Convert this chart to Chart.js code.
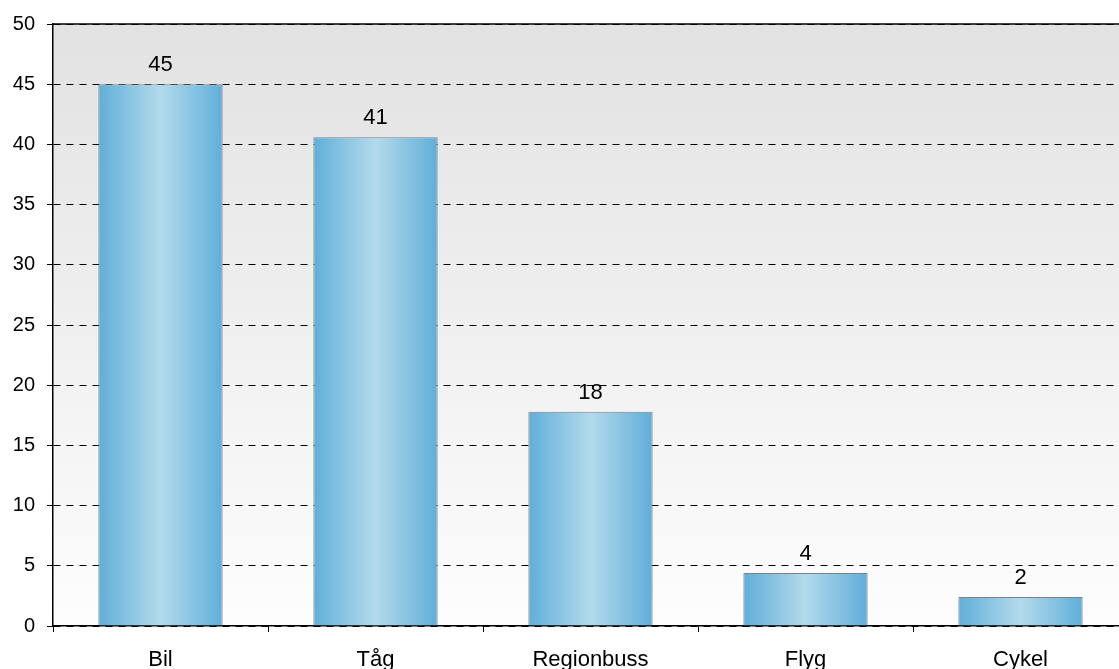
<!DOCTYPE html>
<html>
<head>
<meta charset="utf-8">
<script src="https://cdn.jsdelivr.net/npm/chart.js@4/dist/chart.umd.min.js"></script>
<style>
  html, body { margin: 0; padding: 0; background: #fff; overflow: hidden; }
  #wrap { position: absolute; left: 0; top: 0; width: 1131px; height: 669px; }
</style>
</head>
<body>
<div id="wrap"><canvas id="chart"></canvas></div>
<script>
const categories = ['Bil', 'Tåg', 'Regionbuss', 'Flyg', 'Cykel'];
const shares = [45, 40.6, 17.8, 4.4, 2.4];
const yTicks = [0, 5, 10, 15, 20, 25, 30, 35, 40, 45, 50];

const FONT = "'Liberation Sans', Arial, sans-serif";
const BAR_PCT = 0.578;

// gray-to-white fill behind the plot, plus the solid frame line on top
const plotBackground = {
    id: 'plotBackground',
    beforeDraw(chart) {
        const { ctx, chartArea: a } = chart;
        const g = ctx.createLinearGradient(0, a.top, 0, a.bottom);
        g.addColorStop(0, '#e2e2e2');
        g.addColorStop(1, '#fdfdfd');
        ctx.save();
        ctx.fillStyle = g;
        ctx.fillRect(a.left, a.top, a.right - a.left, a.bottom - a.top);
        ctx.restore();
    },
    afterDatasetsDraw(chart) {
        const { ctx, chartArea: a } = chart;
        ctx.save();
        ctx.strokeStyle = '#000';
        ctx.lineWidth = 1.5;
        ctx.beginPath();
        ctx.moveTo(a.left, a.top);
        ctx.lineTo(a.right, a.top);
        ctx.stroke();
        ctx.restore();
    }
};

// value above each bar
const barValues = {
    id: 'barValues',
    afterDatasetsDraw(chart) {
        const { ctx } = chart;
        const meta = chart.getDatasetMeta(0);
        ctx.save();
        ctx.font = '22px ' + FONT;
        ctx.fillStyle = '#000';
        ctx.textAlign = 'center';
        ctx.textBaseline = 'alphabetic';
        meta.data.forEach((bar, i) => {
            ctx.fillText(Math.round(shares[i]), bar.x, bar.y - 13);
        });
        ctx.restore();
    }
};

// horizontal shading across each bar: darker edges, light middle
function barFill(context) {
    const xs = context.chart.scales.x;
    if (!xs || context.dataIndex === undefined) return '#8cc4e2';
    const cx = xs.getPixelForValue(context.dataIndex);
    const half = (xs.width / categories.length) * BAR_PCT / 2;
    if (!Number.isFinite(cx) || !Number.isFinite(half) || half <= 0) return '#8cc4e2';
    const g = context.chart.ctx.createLinearGradient(cx - half, 0, cx + half, 0);
    g.addColorStop(0, '#60aed9');
    g.addColorStop(0.5, '#b3daeb');
    g.addColorStop(1, '#60aed9');
    return g;
}

new Chart(document.getElementById('chart'), {
    type: 'bar',
    data: {
        labels: categories,
        datasets: [{
            data: shares,
            backgroundColor: barFill,
            borderColor: '#7c8084',
            borderWidth: 1,
            borderSkipped: 'bottom',
            barPercentage: BAR_PCT,
            categoryPercentage: 1
        }]
    },
    options: {
        responsive: true,
        maintainAspectRatio: false,
        animation: false,
        layout: { padding: { top: 23, right: 3, left: 0, bottom: 0 } },
        plugins: {
            legend: { display: false },
            tooltip: { enabled: false }
        },
        scales: {
            x: {
                afterFit: s => { s.height = 43; },
                grid: {
                    display: true,
                    drawOnChartArea: false,
                    offset: true,
                    tickLength: 6,
                    tickColor: '#000',
                    color: '#000'
                },
                border: { color: '#000', width: 1.5 },
                ticks: {
                    color: '#000',
                    font: { family: FONT, size: 22 },
                    padding: 15,
                    maxRotation: 0
                }
            },
            y: {
                min: 0,
                max: 50,
                afterFit: s => { s.width = 53; },
                afterBuildTicks: scale => {
                    scale.ticks = yTicks.map(v => ({ value: v }));
                },
                grid: {
                    color: '#000',
                    lineWidth: 1,
                    tickLength: 6,
                    tickColor: '#000',
                    tickBorderDash: []
                },
                border: { color: '#000', width: 1.5, dash: [7, 6] },
                ticks: {
                    color: '#000',
                    font: { family: FONT, size: 20 },
                    padding: 12
                }
            }
        }
    },
    plugins: [plotBackground, barValues]
});
</script>
</body>
</html>
